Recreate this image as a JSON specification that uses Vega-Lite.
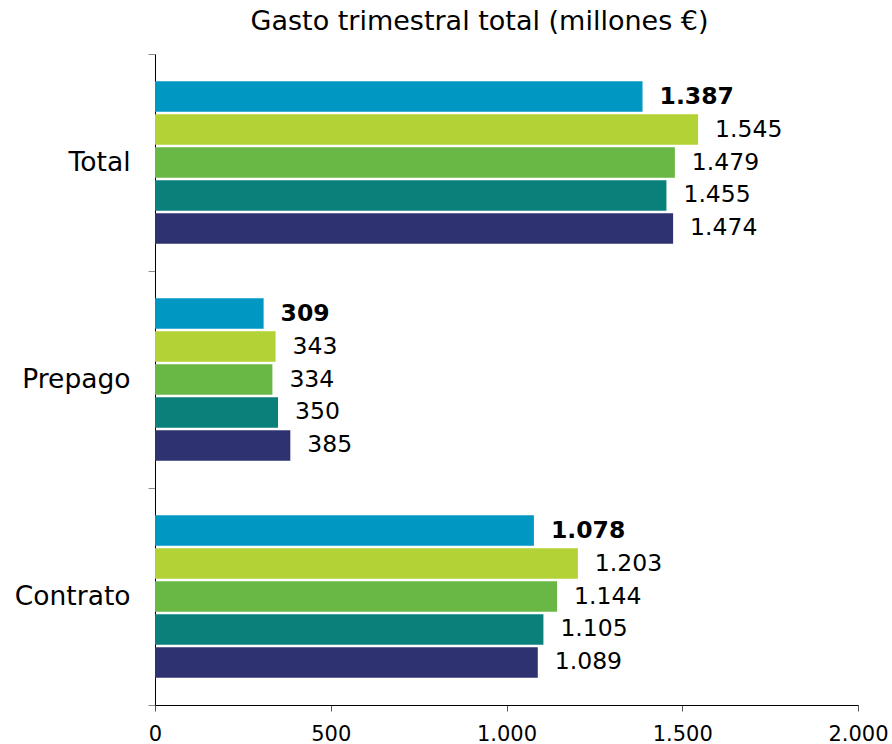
{
  "$schema": "https://vega.github.io/schema/vega-lite/v6.json",
  "width": 703,
  "height": 651,
  "autosize": {"type": "none"},
  "padding": {"left": 155, "top": 54, "right": 34, "bottom": 39},
  "background": "white",
  "config": {
    "view": {"stroke": null},
    "font": "DejaVu Sans",
    "locale": {"number": {"decimal": ",", "thousands": ".", "grouping": [3], "currency": ["", " €"]}}
  },
  "title": {
    "text": "Gasto trimestral total (millones €)",
    "anchor": "middle",
    "dx": -27,
    "offset": 5,
    "fontSize": 27,
    "fontWeight": "normal",
    "font": "DejaVu Sans",
    "color": "black"
  },
  "data": {
    "values": [
      {"segmento": "Total", "periodo": "Periodo 1", "gasto": 1387},
      {"segmento": "Total", "periodo": "Periodo 2", "gasto": 1545},
      {"segmento": "Total", "periodo": "Periodo 3", "gasto": 1479},
      {"segmento": "Total", "periodo": "Periodo 4", "gasto": 1455},
      {"segmento": "Total", "periodo": "Periodo 5", "gasto": 1474},
      {"segmento": "Prepago", "periodo": "Periodo 1", "gasto": 309},
      {"segmento": "Prepago", "periodo": "Periodo 2", "gasto": 343},
      {"segmento": "Prepago", "periodo": "Periodo 3", "gasto": 334},
      {"segmento": "Prepago", "periodo": "Periodo 4", "gasto": 350},
      {"segmento": "Prepago", "periodo": "Periodo 5", "gasto": 385},
      {"segmento": "Contrato", "periodo": "Periodo 1", "gasto": 1078},
      {"segmento": "Contrato", "periodo": "Periodo 2", "gasto": 1203},
      {"segmento": "Contrato", "periodo": "Periodo 3", "gasto": 1144},
      {"segmento": "Contrato", "periodo": "Periodo 4", "gasto": 1105},
      {"segmento": "Contrato", "periodo": "Periodo 5", "gasto": 1089}
    ]
  },
  "encoding": {
    "y": {
      "field": "segmento",
      "type": "nominal",
      "sort": ["Total", "Prepago", "Contrato"],
      "scale": {"paddingInner": 0, "paddingOuter": 0},
      "axis": {
        "title": null,
        "domainColor": "black",
        "domainWidth": 1,
        "tickColor": "#8c8c8c",
        "tickSize": 7,
        "tickBand": "extent",
        "labelFontSize": 26.5,
        "labelFont": "DejaVu Sans",
        "labelColor": "black",
        "labelPadding": 18
      }
    },
    "yOffset": {
      "field": "periodo",
      "type": "nominal",
      "sort": ["Periodo 1", "Periodo 2", "Periodo 3", "Periodo 4", "Periodo 5"],
      "scale": {"paddingInner": 0.07, "paddingOuter": 0.823}
    },
    "x": {
      "field": "gasto",
      "type": "quantitative",
      "scale": {"domain": [0, 2000]},
      "axis": {
        "title": null,
        "grid": false,
        "values": [0, 500, 1000, 1500, 2000],
        "format": ",d",
        "domainColor": "black",
        "domainWidth": 1,
        "tickColor": "#555555",
        "tickSize": 6,
        "labelFontSize": 21,
        "labelFont": "DejaVu Sans",
        "labelColor": "black",
        "labelPadding": 12,
        "labelFlush": false
      }
    }
  },
  "layer": [
    {
      "mark": {"type": "bar"},
      "encoding": {
        "color": {
          "field": "periodo",
          "type": "nominal",
          "scale": {
            "domain": ["Periodo 1", "Periodo 2", "Periodo 3", "Periodo 4", "Periodo 5"],
            "range": ["#0097C3", "#B2D235", "#69B846", "#0A807B", "#2F3270"]
          },
          "legend": null
        }
      }
    },
    {
      "transform": [{"filter": "datum.periodo == 'Periodo 1'"}],
      "mark": {"type": "text", "align": "left", "baseline": "middle", "dx": 17, "fontSize": 23.5, "fontWeight": "bold", "font": "DejaVu Sans", "color": "black"},
      "encoding": {"text": {"field": "gasto", "type": "quantitative", "format": ",d"}}
    },
    {
      "transform": [{"filter": "datum.periodo != 'Periodo 1'"}],
      "mark": {"type": "text", "align": "left", "baseline": "middle", "dx": 17, "fontSize": 23.5, "fontWeight": "normal", "font": "DejaVu Sans", "color": "black"},
      "encoding": {"text": {"field": "gasto", "type": "quantitative", "format": ",d"}}
    }
  ]
}
